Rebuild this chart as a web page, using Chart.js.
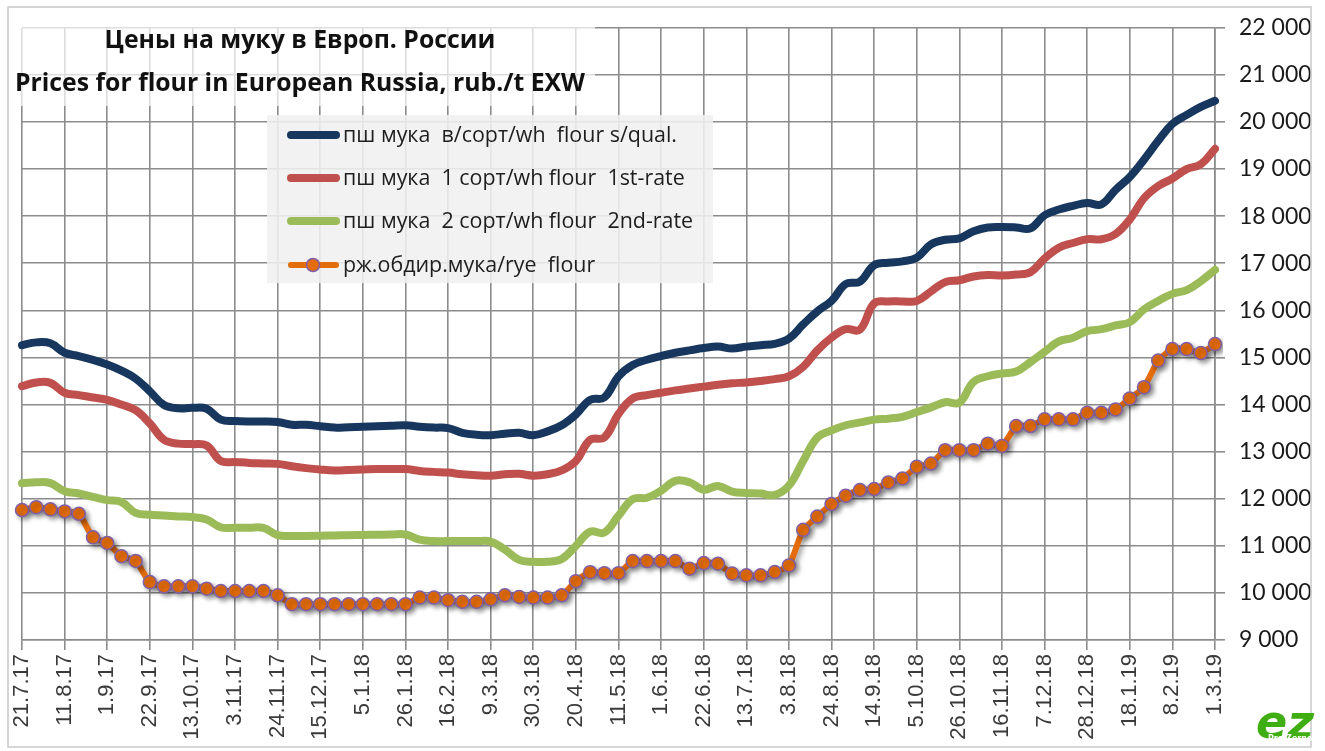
<!DOCTYPE html>
<html>
<head>
<meta charset="utf-8">
<script src="https://cdn.jsdelivr.net/npm/chart.js@4.4.0/dist/chart.umd.min.js"></script>
<style>
  html, body { margin: 0; padding: 0; background: #fff; }
  #wrap { width: 1325px; height: 751px; }
</style>
</head>
<body>
<div id="wrap"><canvas id="myChart" width="1325" height="751"></canvas></div>
<script>
// tick labels every 3 weeks, data is weekly (85 points)
const tickLabels = ['21.7.17', '11.8.17', '1.9.17', '22.9.17', '13.10.17', '3.11.17', '24.11.17', '15.12.17',
  '5.1.18', '26.1.18', '16.2.18', '9.3.18', '30.3.18', '20.4.18', '11.5.18', '1.6.18', '22.6.18', '13.7.18',
  '3.8.18', '24.8.18', '14.9.18', '5.10.18', '26.10.18', '16.11.18', '7.12.18', '28.12.18', '18.1.19', '8.2.19', '1.3.19'];

const seriesNames = ['пш мука  в/сорт/wh  flour s/qual.', 'пш мука  1 сорт/wh flour  1st-rate',
  'пш мука  2 сорт/wh flour  2nd-rate', 'рж.обдир.мука/rye  flour'];

const wheatTop = [15260, 15320, 15300, 15100, 15030, 14950, 14850, 14720, 14550, 14280,
  13990, 13920, 13930, 13910, 13680, 13650, 13640, 13640, 13630, 13570,
  13570, 13540, 13510, 13520, 13530, 13540, 13550, 13560, 13530, 13510,
  13500, 13400, 13360, 13350, 13380, 13400, 13350, 13430, 13560, 13790,
  14100, 14150, 14600, 14840, 14950, 15030, 15100, 15150, 15200, 15230,
  15190, 15230, 15260, 15290, 15400, 15700, 15980, 16200, 16560, 16610,
  16960, 17010, 17040, 17120, 17400, 17500, 17530, 17680, 17760, 17770,
  17760, 17740, 18020, 18140, 18220, 18280, 18250, 18560, 18830, 19200,
  19600, 19960, 20150, 20320, 20450];

const wheatFirst = [14390, 14470, 14460, 14250, 14200, 14150, 14100, 14000, 13880, 13600,
  13250, 13170, 13160, 13130, 12800, 12780, 12760, 12750, 12740, 12690,
  12650, 12620, 12600, 12610, 12620, 12630, 12630, 12630, 12590, 12570,
  12555, 12520, 12500, 12490, 12520, 12530, 12490, 12520, 12600, 12800,
  13250, 13300, 13800, 14130, 14200, 14250, 14300, 14340, 14380, 14420,
  14450, 14470, 14500, 14540, 14600, 14800, 15150, 15420, 15600, 15590,
  16150, 16190, 16190, 16200, 16400, 16600, 16640, 16720, 16750, 16740,
  16760, 16810, 17100, 17330, 17430, 17510, 17510, 17620, 17930, 18380,
  18640, 18800, 19000, 19100, 19430];

const wheatSecond = [12330, 12350, 12330, 12160, 12110, 12040, 11970, 11930, 11700, 11660,
  11645, 11625, 11610, 11560, 11390, 11385, 11385, 11380, 11225, 11210,
  11210, 11215, 11220, 11225, 11230, 11235, 11240, 11240, 11130, 11100,
  11100, 11100, 11100, 11090, 10920, 10700, 10660, 10660, 10720, 11000,
  11300, 11280, 11640, 11990, 12020, 12170, 12380, 12350, 12190, 12270,
  12150, 12120, 12110, 12080, 12280, 12800, 13300, 13450, 13560, 13620,
  13680, 13700, 13740, 13840, 13940, 14050, 14040, 14480, 14600, 14660,
  14700, 14900, 15120, 15340, 15420, 15560, 15600, 15680, 15750, 16020,
  16200, 16350, 16430, 16620, 16860];

const rye = [11760, 11820, 11775, 11730, 11680, 11180, 11060, 10780, 10680, 10230,
  10140, 10140, 10140, 10090, 10040, 10040, 10040, 10040, 9950, 9760,
  9760, 9760, 9760, 9760, 9760, 9760, 9760, 9760, 9900, 9900,
  9845, 9810, 9810, 9865, 9950, 9915, 9900, 9900, 9950, 10250,
  10440, 10420, 10420, 10675, 10675, 10675, 10675, 10515, 10633, 10620,
  10410, 10373, 10373, 10443, 10584, 11339, 11620, 11889, 12064, 12185,
  12206, 12345, 12430, 12677, 12747, 13030, 13030, 13030, 13170, 13121,
  13544, 13544, 13686, 13686, 13686, 13825, 13825, 13897, 14130, 14368,
  14933, 15178, 15178, 15094, 15284];

const colors = ['#17375e', '#c0504d', '#9bbb59', '#e46c0a'];
const gridCol = '#8c8c8c';

// one category per week, only every 3rd gets a label
const labels = rye.map((v, i) => (i % 3 === 0 ? tickLabels[i / 3] : ''));

function fmt(v) {
  return String(v).replace(/\B(?=(\d{3})+(?!\d))/g, ' ');
}

// draw text squeezed horizontally (Calibri look)
function squeezed(ctx, text, x, y, sx) {
  ctx.save();
  ctx.translate(x, y);
  ctx.scale(sx, 1);
  ctx.fillText(text, 0, 0);
  ctx.restore();
}

const shadowPlugin = {
  id: 'ryeShadow',
  beforeDatasetDraw(chart, args) {
    if (args.index !== 3) return;
    const c = chart.ctx;
    c.save();
    c.shadowColor = 'rgba(0,0,0,0.35)';
    c.shadowBlur = 5;
    c.shadowOffsetX = 3;
    c.shadowOffsetY = 3;
  },
  afterDatasetDraw(chart, args) {
    if (args.index !== 3) return;
    chart.ctx.restore();
  }
};

const decoPlugin = {
  id: 'deco',
  afterDraw(chart) {
    const c = chart.ctx;
    c.save();
    // outer frame
    c.strokeStyle = '#c8c8c8';
    c.lineWidth = 1.5;
    c.strokeRect(8, 7, 1303, 740);

    // title block (semi transparent)
    c.fillStyle = 'rgba(255,255,255,0.7)';
    c.fillRect(10, 26, 585, 80);
    c.fillStyle = '#111';
    c.textBaseline = 'alphabetic';
    c.font = 'bold 25px "Open Sans", sans-serif';
    const t1 = 'Цены на муку в Европ. России';
    const t2 = 'Prices for flour in European Russia, rub./t EXW';
    const w2 = c.measureText(t2).width;
    const sxT = 570 / w2;
    const w1 = c.measureText(t1).width * sxT;
    squeezed(c, t1, 300 - w1 / 2, 48, sxT);
    squeezed(c, t2, 15, 91, sxT);

    // legend box
    c.fillStyle = 'rgba(240,240,240,0.88)';
    c.fillRect(267, 115, 446, 168);
    c.font = '21px "Open Sans", sans-serif';
    const sxL = 334 / c.measureText(seriesNames[0]).width;
    const rows = [135, 178, 221, 265];
    chart.data.datasets.forEach((ds, i) => {
      const y = rows[i];
      c.strokeStyle = ds.borderColor;
      c.lineWidth = i === 3 ? 6 : 8;
      c.lineCap = 'round';
      c.beginPath();
      c.moveTo(291, y);
      c.lineTo(336, y);
      c.stroke();
      if (i === 3) {
        c.beginPath();
        c.arc(313, y, 6.5, 0, Math.PI * 2);
        c.fillStyle = ds.pointBackgroundColor;
        c.fill();
        c.lineWidth = 1.5;
        c.strokeStyle = ds.pointBorderColor;
        c.stroke();
      }
      c.fillStyle = '#1e1e1e';
      c.textBaseline = 'middle';
      squeezed(c, ds.label, 343, y + 1, sxL);
    });

    // logo
    c.textBaseline = 'alphabetic';
    c.font = 'italic bold 46px "DejaVu Sans", sans-serif';
    c.fillStyle = '#3fae12';
    c.fillText('ez', 1256, 738);
    c.font = 'bold 8px "DejaVu Sans", sans-serif';
    c.fillStyle = '#ffffff';
    c.fillText('Pro Zerno', 1268, 741);
    c.restore();
  }
};

const ctx = document.getElementById('myChart').getContext('2d');
const myChart = new Chart(ctx, {
  type: 'line',
  data: {
    labels: labels,
    datasets: [
      { label: seriesNames[0], data: wheatTop, borderColor: colors[0], borderWidth: 8, pointRadius: 0, tension: 0.4 },
      { label: seriesNames[1], data: wheatFirst, borderColor: colors[1], borderWidth: 8, pointRadius: 0, tension: 0.4 },
      { label: seriesNames[2], data: wheatSecond, borderColor: colors[2], borderWidth: 8, pointRadius: 0, tension: 0.4 },
      {
        label: seriesNames[3], data: rye, borderColor: colors[3], borderWidth: 6, tension: 0.2,
        pointRadius: 6.5, pointBackgroundColor: colors[3], pointBorderColor: '#7f5fa8', pointBorderWidth: 1.5
      }
    ]
  },
  options: {
    responsive: false,
    animation: false,
    devicePixelRatio: 1,
    layout: { padding: { left: 22, top: 25, right: 0, bottom: 0 } },
    plugins: { legend: { display: false }, tooltip: { enabled: false } },
    elements: { line: { borderCapStyle: 'round', borderJoinStyle: 'round' } },
    scales: {
      x: {
        grid: {
          color: c => (c.index % 3 === 0 ? gridCol : 'rgba(0,0,0,0)'),
          lineWidth: 1.6,
          tickLength: 10
        },
        border: { color: gridCol, width: 1.6 },
        ticks: {
          autoSkip: false,
          maxRotation: 90,
          minRotation: 90,
          padding: 4,
          color: '#3a3a3a',
          font: { family: '"Liberation Sans", Arial, sans-serif', size: 22 }
        },
        afterFit: s => { s.height = 111; }
      },
      y: {
        position: 'right',
        min: 9000,
        max: 22000,
        grid: { color: gridCol, lineWidth: 1.6, tickLength: 10 },
        border: { color: gridCol, width: 1.6 },
        ticks: {
          stepSize: 1000,
          padding: 14,
          color: '#1a1a1a',
          font: { family: 'Lato, sans-serif', size: 23 },
          callback: v => fmt(v)
        },
        afterFit: s => { s.width = 110; }
      }
    }
  },
  plugins: [shadowPlugin, decoPlugin]
});
</script>
</body>
</html>
